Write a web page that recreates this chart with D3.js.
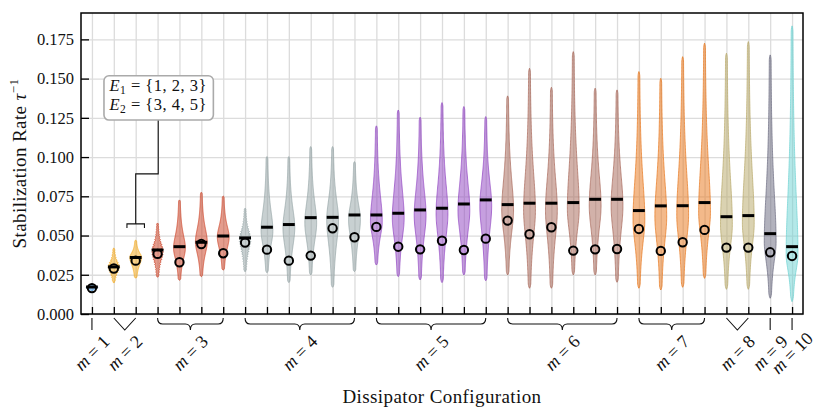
<!DOCTYPE html>
<html>
<head>
<meta charset="utf-8">
<script src="https://cdn.jsdelivr.net/npm/d3@7"></script>
<style>
  body { margin: 0; background: #fff; }
  svg text { font-family: 'Liberation Serif', 'DejaVu Serif', serif; fill: #111; }
</style>
</head>
<body>
<div id="chart"></div>
<script>
// violins per dissipator count m
const groupNames = ['1', '2', '3', '4', '5', '6', '7', '8', '9', '10']
const groupSizes = [1, 2, 4, 6, 6, 6, 4, 2, 1, 1]
const groupColors = ['#3a8fd9', '#f4a91c', '#cc4125', '#95a5a6', '#9146c2',
  '#a8695a', '#e8781e', '#b8a86a', '#6b6b80', '#6fd3d3']

// one entry per violin, left to right
const lows = [0.0150, 0.0200, 0.0230, 0.0235, 0.0215, 0.0238, 0.0280,
  0.0270, 0.0263, 0.0200, 0.0249, 0.0170, 0.0270,
  0.0312, 0.0238, 0.0217, 0.0200, 0.0249, 0.0212,
  0.0249, 0.0164, 0.0164, 0.0249, 0.0249, 0.0202,
  0.0164, 0.0153, 0.0170, 0.0227,
  0.0157, 0.0157, 0.0100, 0.0078]
const highs = [0.0190, 0.0420, 0.0470, 0.0580, 0.0727, 0.0776, 0.0752,
  0.0674, 0.1003, 0.1003, 0.1067, 0.1067, 0.0971,
  0.1199, 0.1300, 0.1254, 0.1347, 0.1322, 0.1258,
  0.1390, 0.1566, 0.1445, 0.1672, 0.1439, 0.1428,
  0.1545, 0.1502, 0.1640, 0.1726,
  0.1662, 0.1736, 0.1651, 0.1836]
const medians = [0.0172, 0.0300, 0.0360, 0.0408, 0.0429, 0.0457, 0.0497,
  0.0485, 0.0553, 0.0570, 0.0614, 0.0616, 0.0631,
  0.0631, 0.0642, 0.0663, 0.0674, 0.0701, 0.0727,
  0.0697, 0.0706, 0.0706, 0.0710, 0.0731, 0.0731,
  0.0659, 0.0689, 0.0690, 0.0710,
  0.0620, 0.0627, 0.0512, 0.0429]
const means = [0.0165, 0.0290, 0.0340, 0.0383, 0.0330, 0.0446, 0.0387,
  0.0455, 0.0410, 0.0340, 0.0372, 0.0546, 0.0489,
  0.0555, 0.0429, 0.0412, 0.0467, 0.0408, 0.0480,
  0.0595, 0.0508, 0.0553, 0.0404, 0.0412, 0.0414,
  0.0542, 0.0402, 0.0457, 0.0536,
  0.0423, 0.0423, 0.0393, 0.0370]
// where each violin is widest
const modes = [0.0170, 0.0300, 0.0360, 0.0400, 0.0420, 0.0460, 0.0490,
  0.0480, 0.0530, 0.0550, 0.0580, 0.0600, 0.0600,
  0.0590, 0.0610, 0.0630, 0.0640, 0.0660, 0.0690,
  0.0660, 0.0660, 0.0660, 0.0670, 0.0690, 0.0690,
  0.0600, 0.0620, 0.0630, 0.0650,
  0.0570, 0.0580, 0.0460, 0.0380]
// violins drawn from few distinct values (beaded outline)
const beaded = [1, 3, 7]

const yTicks = [0, 0.025, 0.05, 0.075, 0.1, 0.125, 0.15, 0.175]

const width = 830, height = 419
const margin = { top: 13, right: 27, bottom: 105, left: 81 }
const W = 0.27

const svg = d3.select('#chart').append('svg')
  .attr('width', width)
  .attr('height', height)

const x = d3.scaleLinear().domain([-0.5, 32.5]).range([margin.left, width - margin.right])
const y = d3.scaleLinear().domain([0, 0.1918]).range([height - margin.bottom, margin.top])
const bottom = height - margin.bottom

let groupOf = []
let starts = []
groupSizes.forEach((n, g) => {
  starts.push(groupOf.length)
  for (let k = 0; k < n; k++) groupOf.push(g)
})
const idx = d3.range(lows.length)

// grid
svg.append('g')
  .attr('transform', 'translate(0,' + bottom + ')')
  .call(d3.axisBottom(x).tickValues(idx).tickSize(-(bottom - margin.top)).tickFormat(''))
  .call(g => g.select('.domain').remove())
  .call(g => g.selectAll('line').attr('stroke', '#dcdcdc').attr('stroke-width', 1.3))
svg.append('g')
  .attr('transform', 'translate(' + margin.left + ',0)')
  .call(d3.axisLeft(y).tickValues(yTicks).tickSize(-(width - margin.right - margin.left)).tickFormat(''))
  .call(g => g.select('.domain').remove())
  .call(g => g.selectAll('line').attr('stroke', '#dcdcdc').attr('stroke-width', 1.3))

function halfWidth (v, i) {
  const lo = lows[i], hi = highs[i], m = modes[i]
  let d, k
  if (v < m) { d = (m - v) / (m - lo); k = 2.9 } else { d = (v - m) / (hi - m); k = 3.7 }
  let w = 0.1 + 0.9 / Math.cosh(k * d)
  const edge = Math.min(v - lo, hi - v) / (hi - lo)
  w *= Math.min(1, Math.sqrt(Math.max(edge, 0) / 0.02))
  if (beaded.includes(i)) w *= 0.6 + 0.4 * Math.abs(Math.cos(Math.PI * (v - lo) / 0.0016))
  return w
}

const area = d3.area()
  .curve(d3.curveLinear)
  .y(d => y(d.v))
  .x0(d => x(d.i - W * d.w))
  .x1(d => x(d.i + W * d.w))

svg.append('g').selectAll('path.violin')
  .data(idx)
  .join('path')
  .attr('class', 'violin')
  .attr('d', i => {
    const pts = d3.range(0, 161).map(k => {
      const v = lows[i] + (highs[i] - lows[i]) * k / 160
      return { i: i, v: v, w: halfWidth(v, i) }
    })
    return area(pts)
  })
  .attr('fill', i => groupColors[groupOf[i]])
  .attr('fill-opacity', 0.52)
  .attr('stroke', i => groupColors[groupOf[i]])
  .attr('stroke-opacity', 0.8)
  .attr('stroke-width', 0.9)

// medians
svg.append('g').selectAll('line')
  .data(idx)
  .join('line')
  .attr('x1', i => x(i - W))
  .attr('x2', i => x(i + W))
  .attr('y1', i => y(medians[i]))
  .attr('y2', i => y(medians[i]))
  .attr('stroke', '#000')
  .attr('stroke-width', 3)

// means
svg.append('g').selectAll('circle')
  .data(idx)
  .join('circle')
  .attr('cx', i => x(i))
  .attr('cy', i => y(means[i]))
  .attr('r', 4.2)
  .attr('fill', 'none')
  .attr('stroke', '#000')
  .attr('stroke-width', 2)

// axes (ticks point inward)
svg.append('g')
  .attr('transform', 'translate(' + margin.left + ',0)')
  .call(d3.axisLeft(y).tickValues(yTicks).tickSize(-8).tickPadding(7).tickFormat(d3.format('.3f')))
  .call(g => g.select('.domain').remove())
  .call(g => g.selectAll('line').attr('stroke', '#000').attr('stroke-width', 1.3))
  .call(g => g.selectAll('text').attr('font-size', 16.5).attr('font-family', 'Liberation Serif'))
svg.append('g')
  .attr('transform', 'translate(0,' + bottom + ')')
  .call(d3.axisBottom(x).tickValues(idx).tickSize(-7).tickFormat(''))
  .call(g => g.select('.domain').remove())
  .call(g => g.selectAll('line').attr('stroke', '#000').attr('stroke-width', 1.3))

svg.append('rect')
  .attr('x', margin.left)
  .attr('y', margin.top)
  .attr('width', width - margin.right - margin.left)
  .attr('height', bottom - margin.top)
  .attr('fill', 'none')
  .attr('stroke', '#000')
  .attr('stroke-width', 1.5)

// group braces below the axis
const braces = svg.append('g')
  .attr('fill', 'none')
  .attr('stroke', '#111')
  .attr('stroke-width', 1.1)
groupSizes.forEach((n, g) => {
  const x1 = x(starts[g]), x2 = x(starts[g] + n - 1), xc = (x1 + x2) / 2
  const y0 = bottom + 4, y1 = bottom + 10, y2 = bottom + 16
  let d
  if (n === 1) d = 'M' + x1 + ',' + y0 + 'V' + y2
  else if (n === 2) d = 'M' + x1 + ',' + y0 + 'L' + xc + ',' + y2 + 'L' + x2 + ',' + y0
  else {
    const r = 5
    d = 'M' + x1 + ',' + y0 + 'Q' + x1 + ',' + y1 + ' ' + (x1 + r) + ',' + y1 +
      'L' + (xc - r) + ',' + y1 + 'Q' + xc + ',' + y1 + ' ' + xc + ',' + y2 +
      'Q' + xc + ',' + y1 + ' ' + (xc + r) + ',' + y1 +
      'L' + (x2 - r) + ',' + y1 + 'Q' + x2 + ',' + y1 + ' ' + x2 + ',' + y0
  }
  braces.append('path').attr('d', d)

  const ly = bottom + 39
  const t = svg.append('text')
    .attr('transform', 'translate(' + xc + ',' + ly + ') rotate(-45)')
    .attr('text-anchor', 'middle')
    .attr('dominant-baseline', 'central')
    .attr('font-size', 18)
  t.append('tspan').attr('font-style', 'italic').text('m')
  t.append('tspan').text(' = ' + groupNames[g])
})

// axis titles
const yl = svg.append('text')
  .attr('transform', 'translate(26,' + ((margin.top + bottom) / 2) + ') rotate(-90)')
  .attr('text-anchor', 'middle')
  .attr('font-size', 19)
  .attr('letter-spacing', 0.4)
yl.append('tspan').text('Stabilization Rate ')
yl.append('tspan').attr('font-style', 'italic').text('τ')
yl.append('tspan').attr('font-size', 13).attr('dy', -8).text('−1')

svg.append('text')
  .attr('x', (margin.left + width - margin.right) / 2)
  .attr('y', 403)
  .attr('text-anchor', 'middle')
  .attr('font-size', 19)
  .attr('letter-spacing', 0.4)
  .text('Dissipator Configuration')

// annotation pointing at the second m = 2 violin
const ann = svg.append('g')
ann.append('path')
  .attr('d', 'M' + x(3.03) + ',' + y(0.124) + 'V' + y(0.0893) + 'H' + x(2) + 'V' + y(0.0574) +
    'M' + x(1.6) + ',' + (y(0.0574) + 4) + 'V' + y(0.0574) + 'H' + x(2.4) + 'V' + (y(0.0574) + 4))
  .attr('fill', 'none')
  .attr('stroke', '#111')
  .attr('stroke-width', 1.1)
ann.append('rect')
  .attr('x', x(0.55))
  .attr('y', y(0.1518))
  .attr('width', x(5.55) - x(0.55))
  .attr('height', y(0.1236) - y(0.1518))
  .attr('rx', 5)
  .attr('fill', '#fff')
  .attr('stroke', '#aaa')
  .attr('stroke-width', 1.6)
const lines = [['1', '{1, 2, 3}'], ['2', '{3, 4, 5}']]
lines.forEach((l, k) => {
  const t = ann.append('text')
    .attr('x', x(0.8))
    .attr('y', y(0.1421 - k * 0.0121))
    .attr('font-size', 16.5)
    .attr('letter-spacing', 0.5)
  t.append('tspan').attr('font-style', 'italic').text('E')
  t.append('tspan').attr('font-size', 11.5).attr('dy', 3).text(l[0])
  t.append('tspan').attr('dy', -3).text(' = ' + l[1])
})
</script>
</body>
</html>
